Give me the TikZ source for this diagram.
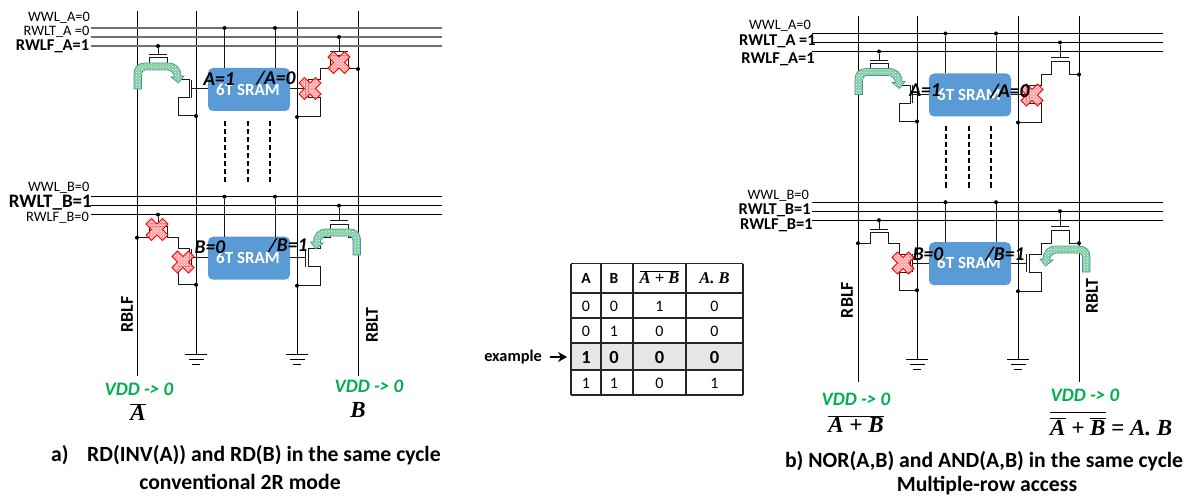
\documentclass[tikz,border=0pt]{standalone}
\usepackage{fontspec}
\setmainfont{Carlito}
\newfontfamily\mathser{Liberation Serif}
\usetikzlibrary{patterns,arrows.meta}
\newcommand\fs[1]{\fontsize{#1}{#1}\selectfont}
\newcommand\mv[1]{\mbox{\mathser\bfseries\itshape #1}}
\definecolor{sramblue}{HTML}{5B9BD5}
\definecolor{vddgreen}{HTML}{00B050}
\definecolor{arrowgreen}{HTML}{7FCF9E}
\definecolor{arrowedge}{HTML}{4F8FA8}
\definecolor{rowgrey}{HTML}{E7E6E6}
\definecolor{wiregrey}{HTML}{707070}
\tikzset{
  wire/.style={line width=1pt,black!90},
  wl/.style={line width=1.2pt},
  bitl/.style={line width=1pt,black},
  dot/.style={circle,fill=black,inner sep=0pt,minimum size=4pt},
  sram/.style={fill=sramblue,rounded corners=5pt,minimum width=82pt,minimum height=43pt,inner sep=0pt,text=white,font=\fs{17}\bfseries},
  lab/.style={inner sep=0pt,anchor=east,font=\fs{14.4}},
  labb/.style={inner sep=0pt,anchor=east,font=\fs{16.5}\bfseries},
  val/.style={inner sep=0pt,font=\fs{19.5}\bfseries\itshape},
  vdd/.style={inner sep=0pt,text=vddgreen,font=\fs{19}\bfseries\itshape},
  rb/.style={inner sep=0pt,rotate=90,font=\fs{18}\bfseries},
  captext/.style={inner sep=0pt,font=\fs{21.7}\bfseries},
  tt/.style={inner sep=0pt,font=\fs{16}},
  ttb/.style={inner sep=0pt,font=\fs{18.5}\bfseries},
  th/.style={inner sep=0pt,font=\fs{15.5}\bfseries},
  tm/.style={inner sep=0pt,font=\fs{16.5}},
  flow/.style={draw=arrowedge,line width=0.7pt,preaction={fill=arrowgreen},pattern=crosshatch dots,pattern color=white},
  nope/.style={draw=red,line width=0.9pt,preaction={fill=red!45,fill opacity=0.8},pattern=crosshatch dots,pattern color=white},
  dashbar/.style={line width=2pt,dash pattern=on 5pt off 3pt},
  tline/.style={line width=1.2pt,black!85},
}
% one memory row: #1 prefix, #2 y offset, #3 word line colour
\newcommand\memrow[3]{%
\begin{scope}[shift={(0,#2)}]
  \coordinate (#1wl1) at (91,28); \coordinate (#1wr1) at (442,28);
  \coordinate (#1wl2) at (91,37); \coordinate (#1wr2) at (442,37);
  \coordinate (#1wl3) at (91,46); \coordinate (#1wr3) at (442,46);
  \draw[wl,#3] (#1wl1)--(#1wr1);
  \draw[wl,#3] (#1wl2)--(#1wr2);
  \draw[wl,#3] (#1wl3)--(#1wr3);
  \node[sram] (#1s) at (249,89.5) {};
  \node[dot] (#1d1) at (224.5,28) {};
  \node[dot] (#1d2) at (275,28) {};
  \draw[wire] (#1d1)--(224.5,68);
  \draw[wire] (#1d2)--(275,68);
  % left read stack
  \node[dot] (#1g1) at (158,46) {};
  \draw[wire] (#1g1)--(158,55);
  \draw[wire] (149,55)--(167,55);
  \draw[wire] (137,69)--(149.5,69)--(149.5,58)--(167.5,58)--(167.5,69)--(178,69)--(178,80)--(189,80)--(189,98)--(178,98)--(178,116)--(196,116);
  \draw[wire] (191.5,80)--(191.5,98);
  \draw[wire] (191.5,89)--(208,89);
  \node[dot] (#1d3) at (196,116) {};
  % right read stack
  \node[dot] (#1g2) at (339,37) {};
  \draw[wire] (#1g2)--(339,52);
  \draw[wire] (330,52)--(348,52);
  \draw[wire] (358,69)--(348.5,69)--(348.5,56)--(330,56)--(330,69)--(320,69)--(320,80)--(308.5,80)--(308.5,98)--(320,98)--(320,117)--(297,117);
  \draw[wire] (305.5,80)--(305.5,98);
  \draw[wire] (290,89)--(305.5,89);
  \node[dot] (#1d4) at (358,69) {};
  \node[dot] (#1d5) at (297,117) {};
  \node[dot] at (137,69) {};
\end{scope}}
\newcommand\bitlines[1]{%
  \coordinate (#1b1t) at (137,11); \coordinate (#1b1b) at (137,376);
  \coordinate (#1b2t) at (196,11); \coordinate (#1b2b) at (196,354);
  \coordinate (#1b3t) at (297,11); \coordinate (#1b3b) at (297,354);
  \coordinate (#1b4t) at (358,11); \coordinate (#1b4b) at (358,376);
  \foreach \k in {1,2,3,4}{\draw[bitl] (#1b\k t)--(#1b\k b);}
  \foreach \k in {2,3}{
    \draw[line width=1pt] ([xshift=-11pt]#1b\k b) -- ([xshift=11pt]#1b\k b);
    \draw[line width=1pt] ([xshift=-7.5pt,yshift=-5pt]#1b\k b) -- ([xshift=7.5pt,yshift=-5pt]#1b\k b);
    \draw[line width=1pt] ([xshift=-4pt,yshift=-10pt]#1b\k b) -- ([xshift=4pt,yshift=-10pt]#1b\k b);
  }
  \foreach \xx in {224.5,248,269.5}{\draw[dashbar] (\xx,121)--(\xx,184);}
}
\newcommand\flowshape{(134,89) -- (134,74) .. controls (134,67) and (138,63) .. (145,63) -- (168,63) .. controls (176,63) and (181,68) .. (181,76) -- (184,76) -- (178.5,83) -- (171,77) -- (174.5,77) .. controls (174,73) and (171,70) .. (167,70) -- (145,70) .. controls (143,70) and (141.5,72) .. (141.5,75) -- (141.5,89) -- cycle}
\newcommand\nopemark[2]{\draw[nope] (#1-11,#2-5.5) -- (#1-5.5,#2-11) -- (#1,#2-5.5) -- (#1+5.5,#2-11) -- (#1+11,#2-5.5) -- (#1+5.5,#2) -- (#1+11,#2+5.5) -- (#1+5.5,#2+11) -- (#1,#2+5.5) -- (#1-5.5,#2+11) -- (#1-11,#2+5.5) -- (#1-5.5,#2) -- cycle;}
\begin{document}
\begin{tikzpicture}[x=1pt,y=-1pt]
\useasboundingbox (0,0) rectangle (1190,497);
% ---------- left panel
\bitlines{p}
\memrow{a}{0}{wiregrey}
\memrow{b}{168.7}{black}
\draw[flow] \flowshape;
\begin{scope}[shift={(494.5,166)},xscale=-1]
  \draw[flow] \flowshape;
\end{scope}
\nopemark{339}{62.5}
\nopemark{310}{88.5}
\nopemark{157}{229.5}
\nopemark{183}{262}
\node[sram,fill=none] (t1) at (248,90) {6T SRAM};
\node[sram,fill=none] (t2) at (248,258) {6T SRAM};
\node[lab] (l1) at (90,17.5) {WWL\_A=0};
\node[lab] (l2) at (89.5,32) {RWLT\_A =0};
\node[labb] (l3) at (89.5,46) {RWLF\_A=1};
\node[lab] (l4) at (89.5,188) {WWL\_B=0};
\node[labb,font=\fs{19}\bfseries] (l5) at (92,203) {RWLT\_B=1};
\node[lab] (l6) at (89,218) {RWLF\_B=0};
\node[val] (v1) at (219,79) {A=1};
\node[val] (v2) at (276,78) {/A=0};
\node[val] (v3) at (210,247) {B=0};
\node[val] (v4) at (288,245) {/B=1};
\node[rb] (r1) at (127,314.5) {RBLF};
\node[rb] (r2) at (372,325) {RBLT};
\node[vdd] (g1) at (139,389) {VDD -> 0};
\node[vdd] (g2) at (369,386) {VDD -> 0};
\node[inner sep=0pt,font=\fs{23}] (m1) at (138,412) {$\overline{\mv{A}}$};
\node[inner sep=0pt,font=\fs{23}] (m2) at (358,410) {\mv{B}};
\node[captext,anchor=west] (c1) at (51,455) {a)};
\node[captext,anchor=west] (c2) at (87,455) {RD(INV(A)) and RD(B) in the same cycle};
\node[captext] (c3) at (240,482) {conventional 2R mode};
% ---------- right panel
\begin{scope}[shift={(721,5.5)}]
\bitlines{q}
\memrow{c}{0}{black}
\memrow{d}{168.7}{black}
\draw[flow] \flowshape;
\end{scope}
\begin{scope}[shift={(1224,183)},xscale=-1]
  \draw[flow] \flowshape;
\end{scope}
\nopemark{1032}{95}
\nopemark{903}{263}
\node[sram,fill=none] (t3) at (969,95) {6T SRAM};
\node[sram,fill=none] (t4) at (969,263) {6T SRAM};
\node[lab] (l7) at (811,26) {WWL\_A=0};
\node[labb] (l8) at (816,41) {RWLT\_A =1};
\node[labb] (l9) at (815,59) {RWLF\_A=1};
\node[lab] (l10) at (809,196) {WWL\_B=0};
\node[labb] (l11) at (811,210) {RWLT\_B=1};
\node[labb] (l12) at (813,225) {RWLF\_B=1};
\node[val] (v5) at (925,90) {A=1};
\node[val] (v6) at (1010,91) {/A=0};
\node[val] (v7) at (928,254) {B=0};
\node[val] (v8) at (1005,254) {/B=1};
\node[rb] (r3) at (847,300) {RBLF};
\node[rb] (r4) at (1092,296) {RBLT};
\node[vdd] (g3) at (856,399) {VDD -> 0};
\node[vdd] (g4) at (1085,395) {VDD -> 0};
\node[inner sep=0pt,font=\fs{23}] (m3) at (856,424) {$\overline{\mv{A + B}}$};
\node[inner sep=0pt,font=\fs{23},anchor=base west] (m4) at (1050,435) {$\overline{\rule{0pt}{21pt}\overline{\mv{A}}\mv{ + }\overline{\mv{B}}}\mv{ = A. B}$};
\node[captext] (c4) at (984,461) {b) NOR(A,B) and AND(A,B) in the same cycle};
\node[captext] (c5) at (987,486) {Multiple-row access};
% ---------- truth table
\fill[rowgrey] (571,343) rectangle (743,370);
\foreach \yy in {263.5,293,318,343,370,395}{\draw[tline] (571,\yy)--(743,\yy);}
\foreach \xx in {571,601,633,686,743}{\draw[tline] (\xx,263.5)--(\xx,395);}
\node[th] (h1) at (586,278) {A};
\node[th] (h2) at (614,278) {B};
\node[tm] (h3) at (659.5,277) {$\overline{\mv{A + B}}$};
\node[tm] (h4) at (714.5,278) {\mv{A. B}};
\node[tt] at (586,306) {0}; \node[tt] at (614,306) {0}; \node[tt] at (659.5,306) {1}; \node[tt] at (714.5,306) {0};
\node[tt] at (586,331) {0}; \node[tt] at (614,331) {1}; \node[tt] at (659.5,331) {0}; \node[tt] at (714.5,331) {0};
\node[ttb] (e1) at (586,357) {1}; \node[ttb] at (614,357) {0}; \node[ttb] at (659.5,357) {0}; \node[ttb] at (714.5,357) {0};
\node[tt] at (586,383) {1}; \node[tt] at (614,383) {1}; \node[tt] at (659.5,383) {0}; \node[tt] at (714.5,383) {1};
\node[inner sep=0pt,font=\fs{16.3}\bfseries] (ex) at (513,357) {example};
\coordinate (exa) at (550,357);
\coordinate (exb) at (567,357);
\draw[line width=1.8pt,-{Stealth[length=9pt,width=10pt]}] (exa)--(exb);
\end{tikzpicture}
\end{document}
